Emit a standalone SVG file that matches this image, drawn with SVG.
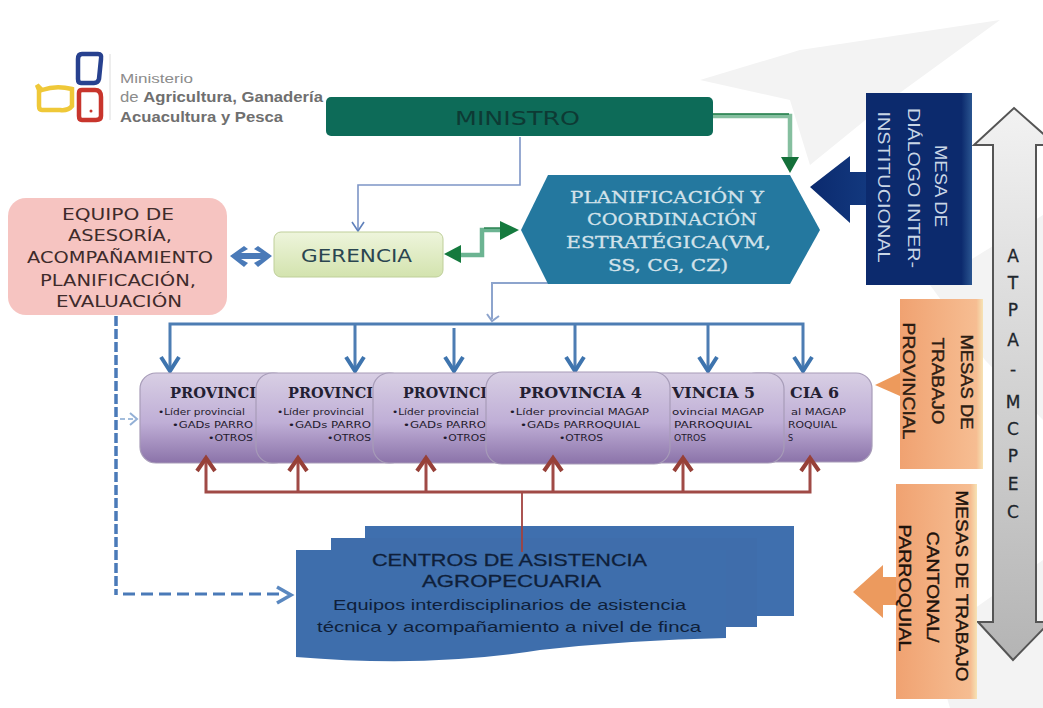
<svg xmlns="http://www.w3.org/2000/svg" width="1043" height="708" viewBox="0 0 1043 708">
<style>
.v{font-family:"Liberation Sans",sans-serif}
.prov{fill:url(#pg);stroke:#a79cb8;stroke-width:1.2}
.pt{font-family:"DejaVu Serif",serif;font-weight:700;font-size:14px;fill:#241f33}
.ps{font-family:"DejaVu Sans",sans-serif;font-size:8px;fill:#1f1a2c}
.eq{font-family:"DejaVu Sans",sans-serif;font-size:16px;fill:#3e2b2b}
.pl{font-family:"DejaVu Serif",serif;font-size:16px;fill:#d3e2ea;font-weight:400;stroke:#d3e2ea;stroke-width:.3}
.ce{font-family:"Liberation Sans",sans-serif;fill:#0f1f3a}
.rt{font-family:"Liberation Sans",sans-serif;font-size:17px;text-anchor:middle}
.atp{font-family:"DejaVu Sans",sans-serif;font-size:17px;fill:#20262c;text-anchor:middle;stroke:#20262c;stroke-width:.3}
</style>
<defs>
<linearGradient id="pg" x1="0" y1="0" x2="0" y2="1"><stop offset="0" stop-color="#d8cfe4"/><stop offset="0.55" stop-color="#bfaed6"/><stop offset="1" stop-color="#8b73a9"/></linearGradient>
<linearGradient id="ar" x1="0" y1="0" x2="0" y2="1"><stop offset="0" stop-color="#f2f2f2"/><stop offset="1" stop-color="#b4b4b4"/></linearGradient>
<linearGradient id="or" x1="0" y1="0" x2="1" y2="0"><stop offset="0" stop-color="#f0a271"/><stop offset="0.92" stop-color="#f6bd92"/><stop offset="1" stop-color="#f6e3b5"/></linearGradient>
<linearGradient id="na" x1="0" y1="0" x2="1" y2="0"><stop offset="0" stop-color="#0c2a6d"/><stop offset="0.9" stop-color="#0c2a6d"/><stop offset="1" stop-color="#2a5590"/></linearGradient>
<linearGradient id="nb" x1="0" y1="0" x2="1" y2="0"><stop offset="0" stop-color="#0b2a6e"/><stop offset="1" stop-color="#13397f"/></linearGradient>
<linearGradient id="gr" x1="0" y1="0" x2="0" y2="1"><stop offset="0" stop-color="#eef5dc"/><stop offset="1" stop-color="#d3e3ae"/></linearGradient>
</defs>
<rect width="1043" height="708" fill="#fff"/>
<g id="bg" fill="#f3f3f3"><polygon points="700,80 800,50 1000,20 890,100 810,165 790,100"/><polygon points="930,285 1043,215 1043,420 985,360"/><polygon points="930,640 1043,560 1043,708 950,708"/></g>

<g id="logo">
<path d="M82 54h16q4 0 3 5l-2 20q-1 4-5 4h-13q-3 0-3-4v-20q0-5 4-5z" fill="#fff" stroke="#27418f" stroke-width="4.5"/>
<path d="M82 90h13q6 0 6 7v19q0 4-5 4h-14q-3 0-3-4v-23q0-3 3-3z" fill="#fff" stroke="#c8352c" stroke-width="4.5"/>
<circle cx="91" cy="111" r="1.5" fill="#c8352c"/>
<path d="M37 85l5 5q14-5 30-1v17q-4 5-12 4h-18q-3 0-3-4v-16z" fill="#fff" stroke="#efc838" stroke-width="4.5"/>
<line x1="110" y1="54" x2="110" y2="120" stroke="#dcdcdc"/>
<text class="v" x="120" y="83" font-size="13" fill="#8c8c8c" textLength="73" lengthAdjust="spacingAndGlyphs">Ministerio</text>
<text class="v" x="120" y="102" font-size="14" fill="#8c8c8c" textLength="203" lengthAdjust="spacingAndGlyphs">de <tspan font-weight="700" fill="#6f6f6f">Agricultura, Ganadería</tspan></text>
<text class="v" x="120" y="122" font-size="14" font-weight="700" fill="#6f6f6f" textLength="163" lengthAdjust="spacingAndGlyphs">Acuacultura y Pesca</text>
</g>

<g id="connectors" fill="none">
<path d="M520 137V185H358V229" stroke="#7d95c6" stroke-width="1.6"/>
<path d="M352 222L358 231L364 222" stroke="#5f80bb" stroke-width="1.6"/>
<path d="M713 116H790V158" stroke="#85bf9f" stroke-width="4.5"/>
<path d="M713 114H789" stroke="#1d7a45" stroke-width="1.5"/>
<polygon points="781,157 799,157 790,173" fill="#14703a"/>
<path d="M461 255H482V230H500" stroke="#6cb492" stroke-width="4.5"/>
<path d="M484 228H500" stroke="#1d7a45" stroke-width="1.3"/>
<polygon points="461,245 461,263 444,254" fill="#157a3e"/>
<polygon points="500,221 500,240 519,230" fill="#157a3e"/>
<polygon points="230,256 244,246 248,249 241,253 261,253 254,249 258,246 272,256 258,267 254,263 261,259 241,259 248,263 244,267" fill="#4a7ab8"/>
<path d="M548 283H492V319" stroke="#8da4cd" stroke-width="2"/>
<path d="M487 314L492 321L499 316" stroke="#8da4cd" stroke-width="2"/>
<path d="M170 370V324H803V370M355 324V370M454 328V370M575 324V370M708 324V370" stroke="#4d7db3" stroke-width="3"/>
<path d="M161 357L170 371L179 357M346 357L355 371L364 357M445 357L454 371L463 357M566 357L575 371L584 357M699 357L708 371L717 357M794 357L803 371L812 357" stroke="#3e74ae" stroke-width="4"/>
<path d="M522 492V552" stroke="#a2423f" stroke-width="1.8"/>
<path d="M116 316V595" stroke="#4a7ab8" stroke-width="3.5" stroke-dasharray="10 3"/>
<path d="M123 594H284" stroke="#4a7ab8" stroke-width="3" stroke-dasharray="12 6"/>
<path d="M277 587L291 595L277 603" stroke="#5a88c0" stroke-width="3.5"/>
<path d="M120 419H133" stroke="#a3bddc" stroke-width="1.8" stroke-dasharray="5 3"/>
<path d="M130 413L137 419L130 425" stroke="#93b0d6" stroke-width="2"/>
</g>

<g id="n-ministro"><rect x="326" y="97" width="387" height="39" rx="5" fill="#0d6b58"/><text x="455" y="125" font-family="DejaVu Sans,sans-serif" font-size="20" fill="#0d3a34" textLength="125" lengthAdjust="spacingAndGlyphs">MINISTRO</text></g>

<g id="n-equipo"><rect x="8" y="198" width="219" height="117" rx="18" fill="#f6c4c1"/>
<text class="eq" x="62" y="220" textLength="112" lengthAdjust="spacingAndGlyphs">EQUIPO DE</text>
<text class="eq" x="68" y="241" textLength="104" lengthAdjust="spacingAndGlyphs">ASESORÍA,</text>
<text class="eq" x="27" y="263" textLength="186" lengthAdjust="spacingAndGlyphs">ACOMPAÑAMIENTO</text>
<text class="eq" x="40" y="286" textLength="156" lengthAdjust="spacingAndGlyphs">PLANIFICACIÓN,</text>
<text class="eq" x="56" y="307" textLength="126" lengthAdjust="spacingAndGlyphs">EVALUACIÓN</text></g>

<g id="n-gerencia"><rect x="274" y="232" width="169" height="45" rx="7" fill="url(#gr)" stroke="#bfcf9a"/><text x="301" y="262" font-family="DejaVu Sans,sans-serif" font-size="18" fill="#2a4550" textLength="111" lengthAdjust="spacingAndGlyphs">GERENCIA</text></g>

<g id="n-planif"><polygon points="521,230 548,175 790,175 820,230 790,284 548,284" fill="#24789f"/>
<text class="pl" x="570" y="203" textLength="194" lengthAdjust="spacingAndGlyphs">PLANIFICACIÓN Y</text>
<text class="pl" x="587" y="225" textLength="170" lengthAdjust="spacingAndGlyphs">COORDINACIÓN</text>
<text class="pl" x="566" y="248" textLength="205" lengthAdjust="spacingAndGlyphs">ESTRATÉGICA(VM,</text>
<text class="pl" x="608" y="271" textLength="120" lengthAdjust="spacingAndGlyphs">SS, CG, CZ)</text></g>

<g id="n-mesa-dialogo"><polygon points="810,187 850,156 850,172 870,172 870,205 850,205 850,223" fill="url(#nb)"/><rect x="866" y="93" width="106" height="192" fill="url(#na)"/>
<g class="rt" fill="#c9d6e6">
<text transform="translate(935,186) rotate(90)" textLength="82" lengthAdjust="spacingAndGlyphs">MESA DE</text>
<text transform="translate(908,188) rotate(90)" textLength="160" lengthAdjust="spacingAndGlyphs">DIÁLOGO INTER-</text>
<text transform="translate(878,187) rotate(90)" textLength="151" lengthAdjust="spacingAndGlyphs">INSTITUCIONAL</text></g></g>

<g id="n-atpa"><polygon points="1014,108 1056,145 1036,145 1036,622 1050,622 1013,660 978,622 993,622 993,145 974,145" fill="url(#ar)" stroke="#555" stroke-width="2"/>
<text class="atp" x="1013" y="262">A</text><text class="atp" x="1013" y="289">T</text><text class="atp" x="1013" y="316">P</text><text class="atp" x="1013" y="346">A</text><text class="atp" x="1013" y="375">-</text><text class="atp" x="1013" y="408">M</text><text class="atp" x="1013" y="435">C</text><text class="atp" x="1013" y="462">P</text><text class="atp" x="1013" y="490">E</text><text class="atp" x="1013" y="518">C</text></g>

<g id="n-mesas-prov"><polygon points="875,385 900,373 900,396" fill="#ed9a5c"/><rect x="900" y="299" width="83" height="170" fill="url(#or)"/>
<g class="rt" fill="#2c1c12" stroke="#2c1c12" stroke-width=".4">
<text transform="translate(961,382) rotate(90)" textLength="95" lengthAdjust="spacingAndGlyphs">MESAS DE</text>
<text transform="translate(932,381) rotate(90)" textLength="87" lengthAdjust="spacingAndGlyphs">TRABAJO</text>
<text transform="translate(903,381) rotate(90)" textLength="117" lengthAdjust="spacingAndGlyphs">PROVINCIAL</text></g></g>

<g id="n-mesas-cant"><polygon points="853,592 883,565 883,577 898,577 898,605 883,605 883,618" fill="#ec9a5e"/><rect x="896" y="484" width="81" height="215" fill="url(#or)"/>
<g class="rt" fill="#1e130c" stroke="#1e130c" stroke-width=".4">
<text transform="translate(956,586) rotate(90)" textLength="191" lengthAdjust="spacingAndGlyphs">MESAS DE TRABAJO</text>
<text transform="translate(927,587) rotate(90)" textLength="111" lengthAdjust="spacingAndGlyphs">CANTONAL/</text>
<text transform="translate(899,588) rotate(90)" textLength="127" lengthAdjust="spacingAndGlyphs">PARROQUIAL</text></g></g>

<g id="n-p1"><rect x="140" y="373" width="150" height="90" rx="16" class="prov"/><text class="pt" x="170" y="398" textLength="86" lengthAdjust="spacingAndGlyphs">PROVINCI</text><text class="ps" x="158" y="415" textLength="87" lengthAdjust="spacingAndGlyphs">•Líder provincial</text><text class="ps" x="172" y="428" textLength="81" lengthAdjust="spacingAndGlyphs">•GADs PARRO</text><text class="ps" x="208" y="441" textLength="45" lengthAdjust="spacingAndGlyphs">•OTROS</text></g>
<g id="n-p2"><rect x="256" y="373" width="150" height="90" rx="16" class="prov"/><text class="pt" x="288" y="398" textLength="85" lengthAdjust="spacingAndGlyphs">PROVINCI</text><text class="ps" x="277" y="415" textLength="87" lengthAdjust="spacingAndGlyphs">•Líder provincial</text><text class="ps" x="288" y="428" textLength="83" lengthAdjust="spacingAndGlyphs">•GADs PARRO</text><text class="ps" x="327" y="441" textLength="44" lengthAdjust="spacingAndGlyphs">•OTROS</text></g>
<g id="n-p3"><rect x="373" y="373" width="150" height="90" rx="16" class="prov"/><text class="pt" x="403" y="398" textLength="84" lengthAdjust="spacingAndGlyphs">PROVINCI</text><text class="ps" x="392" y="415" textLength="87" lengthAdjust="spacingAndGlyphs">•Líder provincial</text><text class="ps" x="403" y="428" textLength="83" lengthAdjust="spacingAndGlyphs">•GADs PARRO</text><text class="ps" x="442" y="441" textLength="44" lengthAdjust="spacingAndGlyphs">•OTROS</text></g>
<g id="n-p6"><rect x="740" y="373" width="132" height="89" rx="16" class="prov"/><text class="pt" x="790" y="398" textLength="49" lengthAdjust="spacingAndGlyphs">CIA 6</text><text class="ps" x="791" y="415" textLength="55" lengthAdjust="spacingAndGlyphs">al  MAGAP</text><text class="ps" x="788" y="428" textLength="49" lengthAdjust="spacingAndGlyphs">ROQUIAL</text><text class="ps" x="788" y="441">S</text></g>
<g id="n-p5"><rect x="634" y="373" width="150" height="90" rx="16" class="prov"/><text class="pt" x="672" y="398" textLength="83" lengthAdjust="spacingAndGlyphs">VINCIA 5</text><text class="ps" x="672" y="415" textLength="92" lengthAdjust="spacingAndGlyphs">ovincial  MAGAP</text><text class="ps" x="674" y="428" textLength="78" lengthAdjust="spacingAndGlyphs">PARROQUIAL</text><text class="ps" x="674" y="441" textLength="32" lengthAdjust="spacingAndGlyphs">OTROS</text></g>
<g id="n-p4"><rect x="486" y="372" width="184" height="92" rx="16" class="prov"/><text class="pt" x="519" y="398" textLength="123" lengthAdjust="spacingAndGlyphs">PROVINCIA 4</text><text class="ps" x="509" y="415" textLength="140" lengthAdjust="spacingAndGlyphs">•Líder provincial  MAGAP</text><text class="ps" x="520" y="428" textLength="120" lengthAdjust="spacingAndGlyphs">•GADs PARROQUIAL</text><text class="ps" x="559" y="441" textLength="44" lengthAdjust="spacingAndGlyphs">•OTROS</text></g>

<g id="connectors-red" fill="none">
<path d="M206 460V492H810V460M298 460V492M426 460V492M553 460V492M683 460V492" stroke="#a04a46" stroke-width="3"/>
<path d="M197 471L206 458L215 471M289 471L298 458L307 471M417 471L426 458L435 471M544 471L553 458L562 471M674 471L683 458L692 471M801 471L810 458L819 471" stroke="#974038" stroke-width="4"/>
</g>

<g id="n-centros"><rect x="365" y="526" width="429" height="90" fill="#3f6fae"/><rect x="331" y="538" width="426" height="89" fill="#3f6dab"/><path d="M296 550H726V638Q630 640 540 650Q430 668 296 657z" fill="#3e6eac"/>
<path d="M522 526V552" stroke="#a2423f" stroke-width="1.8"/>
<text class="ce" x="372" y="566" font-size="17" textLength="275" lengthAdjust="spacingAndGlyphs" stroke="#0f1f3a" stroke-width=".3">CENTROS DE ASISTENCIA</text>
<text class="ce" x="422" y="587" font-size="17" textLength="179" lengthAdjust="spacingAndGlyphs" stroke="#0f1f3a" stroke-width=".3">AGROPECUARIA</text>
<text class="ce" x="333" y="610" font-size="15" textLength="353" lengthAdjust="spacingAndGlyphs">Equipos interdisciplinarios  de asistencia</text>
<text class="ce" x="317" y="632" font-size="15" textLength="384" lengthAdjust="spacingAndGlyphs">técnica  y acompañamiento a nivel de finca</text></g>
</svg>
